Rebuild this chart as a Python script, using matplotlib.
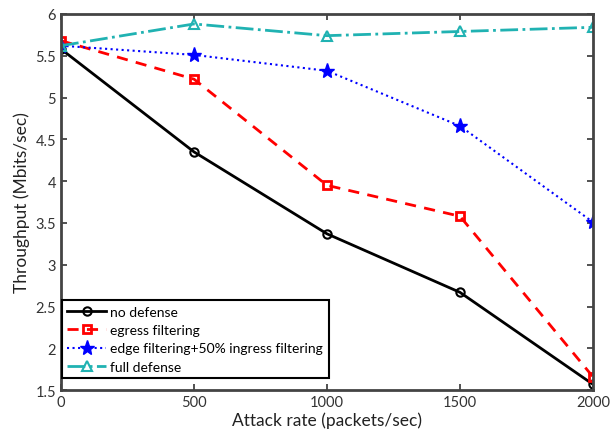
import matplotlib
matplotlib.use("Agg")
import matplotlib.pyplot as plt

# attack rate (packets/sec)
rates = [0, 500, 1000, 1500, 2000]

# throughput (Mbits/sec)
no_defense = [5.58, 4.35, 3.37, 2.67, 1.57]
egress = [5.68, 5.22, 3.95, 3.58, 1.66]
edge_ingress = [5.62, 5.51, 5.32, 4.66, 3.51]
full_defense = [5.62, 5.88, 5.74, 5.79, 5.84]

labels = ["no defense", "egress filtering",
          "edge filtering+50% ingress filtering", "full defense"]

plt.rcParams['font.family'] = ['Lato', 'DejaVu Sans']

fig = plt.figure(figsize=(6.1, 4.39), dpi=100)
ax = fig.add_axes([0.1, 0.109, 0.872, 0.857])

ax.plot(rates, no_defense, color='black', lw=2, marker='o', ms=6,
        mfc='none', mew=1.5, label=labels[0])
ax.plot(rates, egress, color='red', lw=2, ls=(0, (4, 3)), marker='s', ms=6,
        mfc='none', mew=2, label=labels[1])
ax.plot(rates, edge_ingress, color='blue', lw=1.5, ls=':', marker='*', ms=11,
        label=labels[2])
ax.plot(rates, full_defense, color='#20b2b2', lw=2, ls='-.', marker='^', ms=7,
        mfc='none', mew=1.5, label=labels[3])

ax.set_xlim(0, 2000)
ax.set_ylim(1.5, 6)
ax.set_xticks(rates)
ax.set_yticks([1.5, 2, 2.5, 3, 3.5, 4, 4.5, 5, 5.5, 6])
ax.set_yticklabels(['1.5', '2', '2.5', '3', '3.5', '4', '4.5', '5', '5.5', '6'])
ax.tick_params(direction='in', top=True, right=True, labelsize=10.5,
               length=4, width=1.2, colors='#333333')
for s in ax.spines.values():
    s.set_linewidth(2)
    s.set_color('#444444')

ax.set_xlabel('Attack rate (packets/sec)', fontsize=12.5, color='#222222', labelpad=2)
ax.set_ylabel('Throughput (Mbits/sec)', fontsize=12.5, color='#222222', labelpad=4)

# legend sits a little above the bottom spine, flush with the left one
leg = ax.legend(loc='lower left', bbox_to_anchor=(0.0, 0.03), fontsize=10,
                frameon=True, fancybox=False, handlelength=2.8,
                handletextpad=0.3, borderpad=0.4, labelspacing=0.45,
                borderaxespad=0.05)
leg.get_frame().set_edgecolor('black')
leg.get_frame().set_linewidth(1.5)
leg.get_frame().set_alpha(1)

fig.savefig('out.png', dpi=100)
